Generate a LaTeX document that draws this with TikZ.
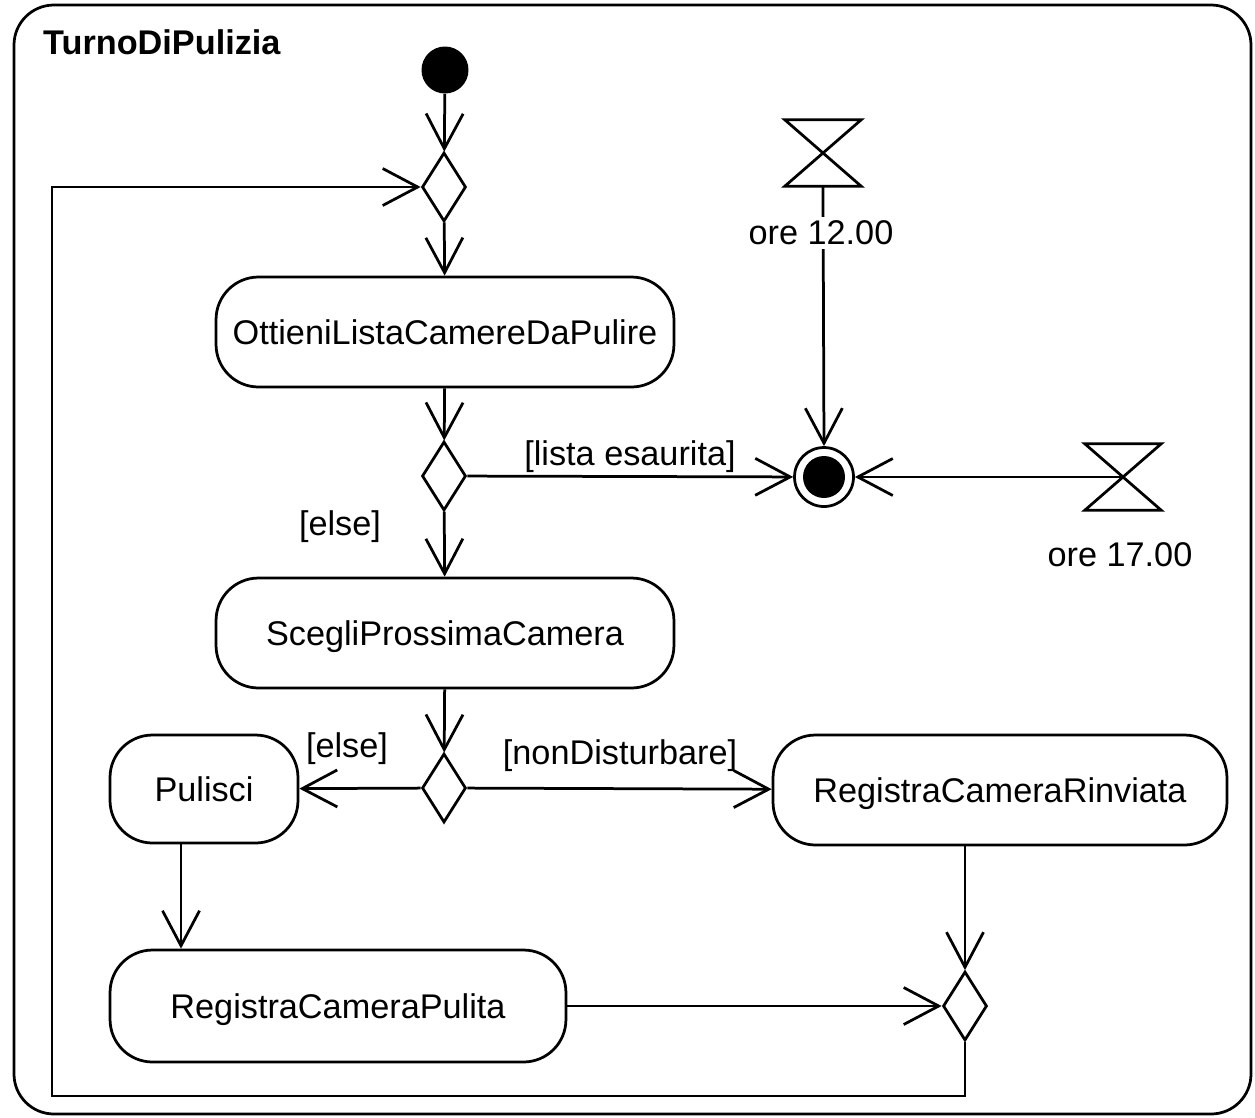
\documentclass[tikz,border=0pt]{standalone}
\usepackage{fontspec}
\setmainfont{Liberation Sans}
\usetikzlibrary{arrows.meta,shapes.geometric}
\tikzset{
  flow/.style={line width=0.055cm, -{Straight Barb[length=0.7cm,width=0.74cm,line width=0.055cm]}},
  action/.style={draw, line width=0.055cm, rounded corners=0.85cm, minimum width=9.16cm, minimum height=2.2cm, text height=14pt, text depth=0pt, font=\fontsize{19.5}{22}\selectfont},
  choice/.style={draw, diamond, line width=0.055cm, minimum width=0.88cm, minimum height=1.38cm, inner sep=0pt},
  guard/.style={font=\fontsize{19.5}{22}\selectfont},
  timer/.style={minimum width=1.52cm, minimum height=1.32cm, inner sep=0pt},
}
\begin{document}
\begin{tikzpicture}[x=0.02cm,y=-0.02cm]
  \useasboundingbox (0,0) rectangle (1255,1117);
  \draw[line width=0.055cm, rounded corners=0.8cm] (14,5) rectangle (1251,1114);
  \node[font=\bfseries\fontsize{19.5}{22}\selectfont, anchor=west] (title) at (37,42) {TurnoDiPulizia};

  % nodes
  \node[circle, fill=black, minimum size=0.94cm, inner sep=0pt] (start) at (445,70) {};
  \node[choice] (mrg1) at (444,187) {};
  \node[action] (lista) at (445,332) {OttieniListaCamereDaPulire};
  \node[choice] (dec2) at (444,476) {};
  \node[action] (scegli) at (445,633) {ScegliProssimaCamera};
  \node[choice] (dec3) at (444,788) {};
  \node[action, minimum width=3.76cm, minimum height=2.16cm] (pulisci) at (204,789) {Pulisci};
  \node[action, minimum width=9.08cm] (rinviata) at (1000,790) {RegistraCameraRinviata};
  \node[action, minimum width=9.12cm, minimum height=2.24cm] (pulita) at (338,1006) {RegistraCameraPulita};
  \node[choice] (mrg4) at (965,1006) {};
  \node[circle, draw, line width=0.055cm, minimum size=1.18cm, inner sep=0pt] (fine) at (824,477) {};
  \fill (fine.center) circle (0.42cm);
  \node[timer] (t12) at (823,153) {};
  \node[timer] (t17) at (1123,477) {};
  \foreach \t in {t12,t17}
    \draw[line width=0.055cm] (\t.north west) -- (\t.north east) -- (\t.south west) -- (\t.south east) -- cycle;
  \coordinate (loop) at (52,1096);

  % connectors
  \draw[flow] (start) -- (mrg1);
  \draw[flow] (mrg1) -- (lista);
  \draw[flow] (lista) -- (dec2);
  \draw[flow] (dec2) -- (scegli);
  \draw[flow] (dec2) -- (fine);
  \draw[flow] (scegli) -- (dec3);
  \draw[flow] (dec3) -- (pulisci);
  \draw[flow] (dec3) -- (rinviata);
  \draw[flow] ([xshift=-0.46cm]pulisci.south) -- ([xshift=-0.46cm]pulisci.south |- pulita.north);
  \draw[flow] (pulita) -- (mrg4);
  \draw[flow] (rinviata.south -| mrg4.north) -- (mrg4.north);
  \draw[flow] (mrg4.south) |- (loop) |- (mrg1.west);
  \draw[flow] (t12.south) -- (fine.north);
  \draw[flow] (t17.center) -- (fine.east);

  % labels
  \node[guard, fill=white, inner sep=2pt] (l12) at (821,233) {ore 12.00};
  \node[guard] (l17) at (1120,555) {ore 17.00};
  \node[guard] (g1) at (630,457) {[lista esaurita]};
  \node[guard] (g2) at (340,527) {[else]};
  \node[guard] (g3) at (347,749) {[else]};
  \node[guard] (g4) at (620,756) {[nonDisturbare]};
\end{tikzpicture}
\end{document}
